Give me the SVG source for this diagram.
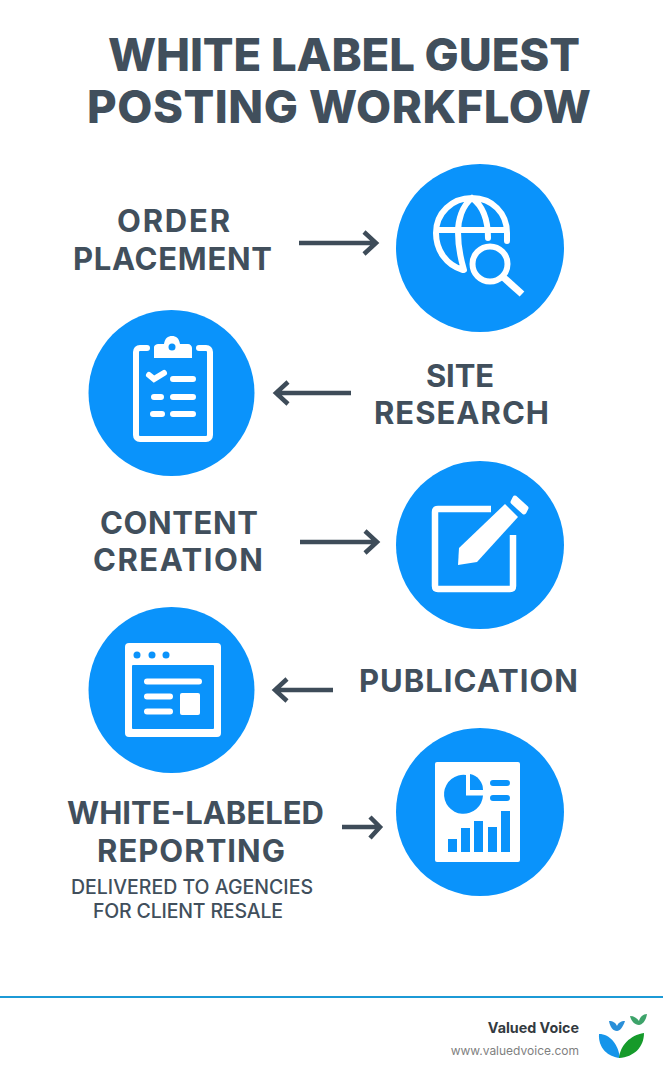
<svg xmlns="http://www.w3.org/2000/svg" width="663" height="1080" viewBox="0 0 663 1080">
<defs>
<filter id="soft" x="-20%" y="-20%" width="140%" height="140%"><feGaussianBlur stdDeviation="0.7"/></filter>
</defs>
<style>
text{font-family:Inter,"Liberation Sans",Arial,sans-serif;fill:#414f5c}
.t{font-size:45.500px;font-weight:800}
.l{font-size:31px;font-weight:650}
.s{font-size:19.500px;font-weight:500}
.c{fill:#0a93fb}
.w{fill:#fff}
.o{fill:none;stroke:#fff;stroke-width:6;stroke-linecap:round;stroke-linejoin:round}
.b{fill:none;stroke:#fff;stroke-width:6;stroke-linecap:round}
.k{fill:none;stroke:#0a93fb;stroke-width:6;stroke-linecap:round}
.a{fill:none;stroke:#3e4c59;stroke-width:4.500;stroke-linejoin:miter}
</style>
<rect width="663" height="1080" fill="#fff"/>
<g id="title">
<text class="t" x="108" y="71" textLength="472" lengthAdjust="spacing">WHITE LABEL GUEST</text>
<text class="t" x="87" y="123" textLength="504" lengthAdjust="spacing">POSTING WORKFLOW</text>
</g>
<g id="connectors">
<path class="a" d="M299 243H376M364 232L376 243L364 254"/>
<path class="a" d="M351 393H276M288 382L276 393L288 404"/>
<path class="a" d="M300 542H377M365 531L377 542L365 553"/>
<path class="a" d="M333 690H275M287 679L275 690L287 701"/>
<path class="a" d="M342 827H380M370 817L380 827L370 838"/>
</g>
<g id="node-order">
<text class="l" x="117" y="232" textLength="113" lengthAdjust="spacing">ORDER</text>
<text class="l" x="73" y="270" textLength="199" lengthAdjust="spacing">PLACEMENT</text>
<circle class="c" cx="480" cy="248" r="84"/>
<path class="o" d="M463 270C446 265 436 250 436 233C436 213 452 198 472 198C492 198 507 213 507 233C507 237 507 239 507 241M439 230H504M472 198C462 206 458 220 458 232C458 248 461 260 464 270M472 198C483 206 488 220 488 238"/>
<circle cx="490" cy="264" r="17.500" fill="#0a93fb" stroke="#fff" stroke-width="6"/>
<path class="o" style="stroke-width:7;stroke-linecap:butt" d="M503 277L522 294"/>
</g>
<g id="node-site">
<circle class="c" cx="171.500" cy="393" r="83"/>
<path class="o" d="M147 348H140C137.500 348 136 349.500 136 352V435C136 437.500 137.500 439 140 439H206C208.500 439 210 437.500 210 435V352C210 349.500 208.500 348 206 348H199"/>
<path class="w" d="M154 358V348C154 345 156 344 159 344H164C165 338 168 336 172 336C176 336 179 338 180 344H188C190 344 192 346 192 348V358Z"/>
<circle class="c" cx="172" cy="347" r="3.500"/>
<path class="b" d="M149 375L154 379L164 373M173 379H193M154 397H161M173 397H193M153 414H162M173 414H193"/>
</g>
<g id="node-content">
<circle class="c" cx="480" cy="545" r="84"/>
<path d="M491 509H438C436 509 435 510 435 512V586C435 588 436 589 438 589H510C512 589 513 588 513 586V535" fill="none" stroke="#fff" stroke-width="6.500"/>
<path class="w" d="M505 504L518 517L477 562L458 565L459 548Z"/>
<path fill="#fff" stroke="#fff" stroke-width="5" stroke-linejoin="round" d="M515 498L526 508L524 512L513 502Z"/>
</g>
<g id="node-publication">
<circle class="c" cx="171.500" cy="690" r="83"/>
<rect class="w" x="125" y="643" width="96" height="94" rx="4"/>
<rect class="c" x="132" y="665" width="82" height="64" rx="1"/>
<circle class="c" cx="137" cy="655" r="3.500"/>
<circle class="c" cx="152" cy="655" r="3.500"/>
<circle class="c" cx="166" cy="655" r="3.500"/>
<path class="b" d="M147 681.500H199M147 696.500H170M147 711.500H170"/>
<rect class="w" x="180" y="693" width="20" height="22" rx="2"/>
</g>
<g id="node-reporting">
<text class="l" x="67" y="824" textLength="257" lengthAdjust="spacing">WHITE-LABELED</text>
<text class="l" x="97" y="862" textLength="188" lengthAdjust="spacing">REPORTING</text>
<text class="s" x="71" y="894" textLength="242" lengthAdjust="spacing">DELIVERED TO AGENCIES</text>
<text class="s" x="93" y="918" textLength="190" lengthAdjust="spacing">FOR CLIENT RESALE</text>
<circle class="c" cx="480" cy="812" r="84"/>
<rect class="w" x="435" y="762" width="85" height="100" rx="2"/>
<path class="c" d="M466 775A19.500 19.500 0 1 0 483 795.500H466Z"/>
<path class="c" d="M470 774A16 16 0 0 1 483 790H470Z"/>
<path class="k" d="M493 783H507M493 798H507"/>
<rect class="c" x="448" y="839" width="9" height="13"/>
<rect class="c" x="461" y="828" width="9" height="24"/>
<rect class="c" x="474" y="821" width="9" height="31"/>
<rect class="c" x="488" y="827" width="9" height="25"/>
<rect class="c" x="501" y="811" width="9" height="41"/>
</g>
<g id="node-site-label">
<text class="l" x="426" y="387" textLength="68" lengthAdjust="spacing">SITE</text>
<text class="l" x="374" y="424" textLength="175" lengthAdjust="spacing">RESEARCH</text>
</g>
<g id="node-content-label">
<text class="l" x="100" y="534" textLength="158" lengthAdjust="spacing">CONTENT</text>
<text class="l" x="93" y="571" textLength="170" lengthAdjust="spacing">CREATION</text>
</g>
<g id="node-publication-label">
<text class="l" x="359" y="692" textLength="219" lengthAdjust="spacing">PUBLICATION</text>
</g>
<g id="footer">
<rect x="0" y="996" width="663" height="2" fill="#1c9ad6"/>
<text x="579" y="1033" text-anchor="end" font-size="14.300" font-weight="700" style="fill:#333a40">Valued Voice</text>
<text x="579" y="1055" text-anchor="end" font-size="12" style="fill:#7f7f7f">www.valuedvoice.com</text>
<g filter="url(#soft)">
<path d="M599 1034C610 1034 618 1044 620 1058C608 1057 598 1048 599 1034Z" fill="#1495ea"/>
<path d="M619 1058C620 1046 630 1035 644 1033C644 1047 634 1057 619 1058Z" fill="#129a2c"/>
<path d="M609 1021C613 1021 616 1023 617 1026C618 1023 621 1021 625 1021C623 1027 620 1031 617 1031C613 1031 610 1027 609 1021Z" fill="#2b8fd8"/>
<path d="M630 1016C634 1016 637 1018 639 1021C640 1017 643 1014 647 1014C646 1021 642 1025 639 1025C635 1025 631 1021 630 1016Z" fill="#3ea36a"/>
</g>
</g>
</svg>
